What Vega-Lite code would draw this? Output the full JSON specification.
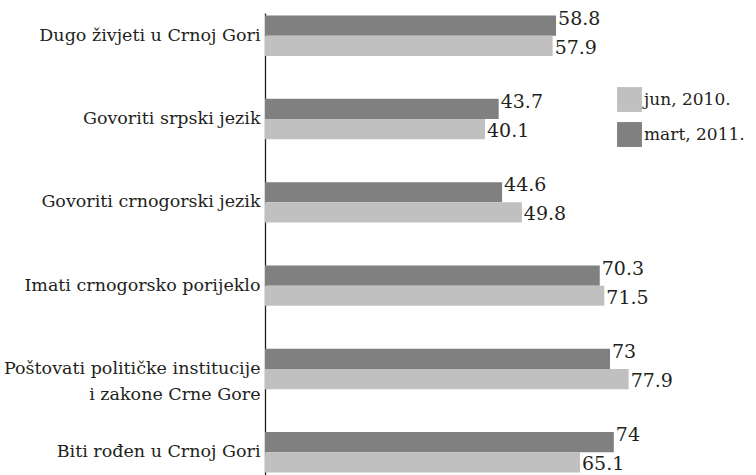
{
  "$schema": "https://vega.github.io/schema/vega-lite/v6.json",
  "autosize": {"type": "none"},
  "width": 440,
  "height": 462,
  "padding": {"left": 265, "top": 13, "right": 51, "bottom": 0},
  "background": "white",
  "config": {
    "view": {"stroke": null},
    "font": "DejaVu Serif"
  },
  "data": {
    "values": [
      {"kategorija": "Dugo živjeti u Crnoj Gori", "period": "mart, 2011.", "vrijednost": 58.8},
      {"kategorija": "Dugo živjeti u Crnoj Gori", "period": "jun, 2010.", "vrijednost": 57.9},
      {"kategorija": "Govoriti srpski jezik", "period": "mart, 2011.", "vrijednost": 43.7},
      {"kategorija": "Govoriti srpski jezik", "period": "jun, 2010.", "vrijednost": 40.1},
      {"kategorija": "Govoriti crnogorski jezik", "period": "mart, 2011.", "vrijednost": 44.6},
      {"kategorija": "Govoriti crnogorski jezik", "period": "jun, 2010.", "vrijednost": 49.8},
      {"kategorija": "Imati crnogorsko porijeklo", "period": "mart, 2011.", "vrijednost": 70.3},
      {"kategorija": "Imati crnogorsko porijeklo", "period": "jun, 2010.", "vrijednost": 71.5},
      {"kategorija": "Poštovati političke institucije\ni zakone Crne Gore", "period": "mart, 2011.", "vrijednost": 73},
      {"kategorija": "Poštovati političke institucije\ni zakone Crne Gore", "period": "jun, 2010.", "vrijednost": 77.9},
      {"kategorija": "Biti rođen u Crnoj Gori", "period": "mart, 2011.", "vrijednost": 74},
      {"kategorija": "Biti rođen u Crnoj Gori", "period": "jun, 2010.", "vrijednost": 65.1}
    ]
  },
  "encoding": {
    "y": {
      "field": "kategorija",
      "type": "nominal",
      "sort": null,
      "scale": {"paddingInner": 0.515, "paddingOuter": 0.03},
      "axis": {
        "title": null,
        "ticks": false,
        "labelPadding": 5,
        "labelFont": "DejaVu Serif",
        "labelFontSize": 17.5,
        "labelColor": "#231f20",
        "labelLineHeight": 26,
        "labelLimit": 400,
        "labelExpr": "split(datum.label, '\\n')",
        "domainColor": "#231f20",
        "domainWidth": 1.3,
        "grid": false
      }
    },
    "yOffset": {
      "field": "period",
      "type": "nominal",
      "sort": ["mart, 2011.", "jun, 2010."],
      "scale": {"paddingInner": 0, "paddingOuter": 0}
    },
    "x": {
      "field": "vrijednost",
      "type": "quantitative",
      "scale": {"domain": [-17.8, 98], "zero": false, "nice": false},
      "axis": null
    }
  },
  "layer": [
    {
      "mark": {"type": "bar"},
      "encoding": {
        "x2": {"datum": -17.8},
        "color": {
          "field": "period",
          "type": "nominal",
          "scale": {"domain": ["jun, 2010.", "mart, 2011."], "range": ["#c0c0c0", "#808080"]},
          "legend": {
            "title": null,
            "orient": "none",
            "legendX": 352,
            "legendY": 74,
            "symbolType": "square",
            "symbolSize": 620,
            "symbolStrokeWidth": 0,
            "symbolOpacity": 1,
            "labelFont": "DejaVu Serif",
            "labelFontSize": 17,
            "labelColor": "#231f20",
            "labelOffset": 2,
            "rowPadding": 10
          }
        }
      }
    },
    {
      "transform": [{"filter": "datum.period === 'mart, 2011.'"}],
      "mark": {"type": "text", "align": "left", "baseline": "middle", "dx": 2, "dy": -7, "font": "DejaVu Serif", "fontSize": 19, "color": "#231f20"},
      "encoding": {"text": {"field": "vrijednost", "type": "quantitative"}}
    },
    {
      "transform": [{"filter": "datum.period === 'jun, 2010.'"}],
      "mark": {"type": "text", "align": "left", "baseline": "middle", "dx": 2, "dy": 2, "font": "DejaVu Serif", "fontSize": 19, "color": "#231f20"},
      "encoding": {"text": {"field": "vrijednost", "type": "quantitative"}}
    }
  ]
}
